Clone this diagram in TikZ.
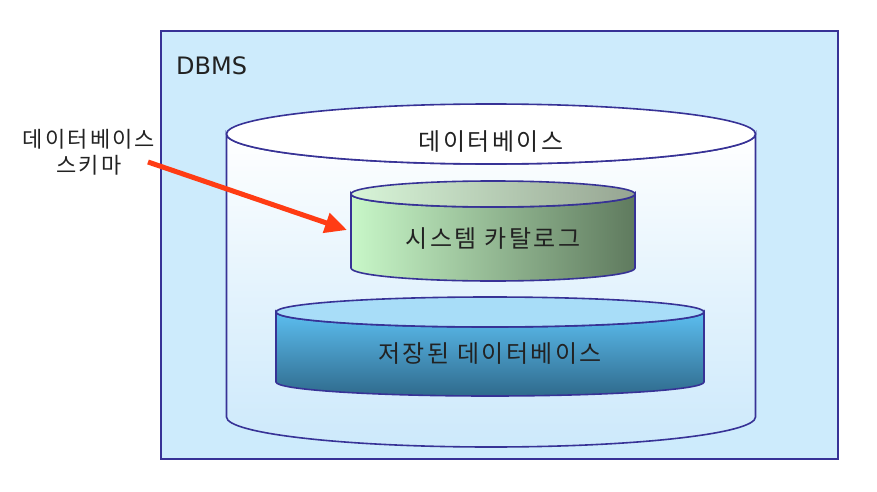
\documentclass[tikz,border=0pt]{standalone}
\usepackage{fontspec}
\newfontfamily\kr[LetterSpace=10]{Noto Sans CJK KR}
\newfontfamily\latinsans{DejaVu Sans}
\usetikzlibrary{arrows.meta}
\definecolor{navy}{RGB}{55,50,150}
\definecolor{dbmsfill}{RGB}{205,235,252}
\definecolor{dbbottom}{RGB}{205,233,251}
\definecolor{catleft}{RGB}{200,247,200}
\definecolor{catright}{RGB}{95,122,94}
\definecolor{cattopleft}{RGB}{216,245,216}
\definecolor{cattopright}{RGB}{150,165,146}
\definecolor{stotop}{RGB}{92,190,240}
\definecolor{stobottom}{RGB}{47,106,140}
\definecolor{stolid}{RGB}{168,221,248}
\definecolor{arrowred}{RGB}{255,60,20}
\definecolor{txt}{RGB}{34,34,34}
\tikzset{
  outline/.style={draw=navy, line width=1.6pt},
  krlabel/.style={inner sep=0pt, text=txt, font=\kr\fontsize{24}{28}\selectfont},
  pointer/.style={draw=arrowred, line width=5pt, -{Triangle[length=22pt,width=20pt]}}
}
\begin{document}
\begin{tikzpicture}[x=1pt,y=1pt]
\useasboundingbox (0,0) rectangle (877,491);
% DBMS box
\path[outline, fill=dbmsfill] (161,460) rectangle (838,32);
\node[inner sep=0pt, anchor=west, text=txt, font=\latinsans\fontsize{24}{28}\selectfont] (dbms) at (176,425) {DBMS};
% big database cylinder
\path[outline, top color=white, bottom color=dbbottom, middle color=white!45!dbbottom]
  (226.5,357) -- (226.5,74) arc[start angle=180, end angle=360, x radius=264.5, y radius=30]
  -- (755.5,357) arc[start angle=0, end angle=-180, x radius=264.5, y radius=30] -- cycle;
\path[outline, fill=white] (491,357) ellipse[x radius=264.5, y radius=30];
\node[krlabel] (db) at (491,349) {데이터베이스};
% system catalog cylinder
\path[outline, left color=catleft, right color=catright]
  (351,297) -- (351,223) arc[start angle=180, end angle=360, x radius=142, y radius=13]
  -- (635,297) arc[start angle=0, end angle=-180, x radius=142, y radius=13] -- cycle;
\path[outline, left color=cattopleft, right color=cattopright] (493,297) ellipse[x radius=142, y radius=13];
\node[krlabel] (catalog) at (493,252) {시스템 카탈로그};
% stored database cylinder
\path[outline, top color=stotop, bottom color=stobottom]
  (276,179) -- (276,109) arc[start angle=180, end angle=360, x radius=214, y radius=14]
  -- (704,179) arc[start angle=0, end angle=-180, x radius=214, y radius=15] -- cycle;
\path[outline, fill=stolid] (490,179) ellipse[x radius=214, y radius=15];
\node[krlabel] (stored) at (490,137) {저장된 데이터베이스};
% schema label and arrow
\node[inner sep=0pt, align=center, text=txt, font=\kr\fontsize{22}{26}\selectfont] (schema) at (89,339) {데이터베이스\\스키마};
\coordinate (tail) at (148,329);
\coordinate (tip) at (347,261);
\draw[pointer] (tail) -- (tip);
\end{tikzpicture}
\end{document}
